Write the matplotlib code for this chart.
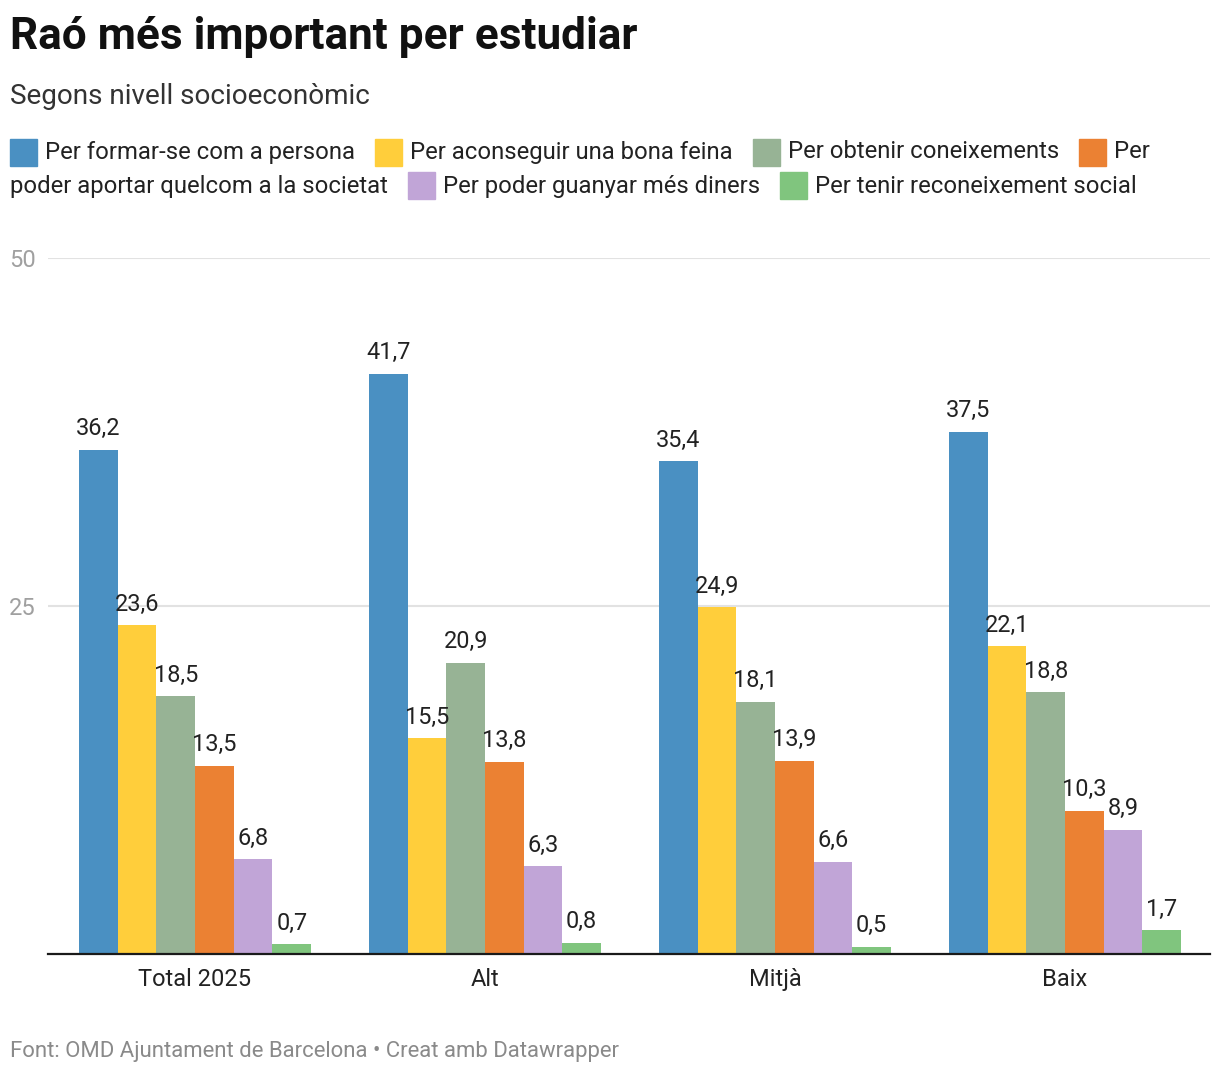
import numpy as np
import matplotlib.pyplot as plt
from matplotlib.patches import Rectangle

plt.rcParams['font.family'] = ['Roboto', 'DejaVu Sans']

# data
groups = ['Total 2025', 'Alt', 'Mitjà', 'Baix']
series = ['Per formar-se com a persona', 'Per aconseguir una bona feina',
          'Per obtenir coneixements', 'Per poder aportar quelcom a la societat',
          'Per poder guanyar més diners', 'Per tenir reconeixement social']
formar = [36.2, 41.7, 35.4, 37.5]
feina = [23.6, 15.5, 24.9, 22.1]
coneixements = [18.5, 20.9, 18.1, 18.8]
societat = [13.5, 13.8, 13.9, 10.3]
diners = [6.8, 6.3, 6.6, 8.9]
reconeixement = [0.7, 0.8, 0.5, 1.7]
values = [formar, feina, coneixements, societat, diners, reconeixement]
colors = ['#4a90c2', '#ffce3b', '#97b395', '#eb8133', '#c1a5d7', '#80c57e']

W, H = 1220, 1076
fig = plt.figure(figsize=(W / 100, H / 100), dpi=100)
ax = fig.add_axes([48 / W, (H - 954) / H, (1210 - 48) / W, (954 - 258) / H])

x = np.arange(len(groups))
width = 0.8 / len(series)
for i, (vals, c) in enumerate(zip(values, colors)):
    pos = x - 0.4 + width * (i + 0.5)
    ax.bar(pos, vals, width, color=c, zorder=3)
    for p, v in zip(pos, vals):
        ax.annotate(f'{v:.1f}'.replace('.', ','), (p, v), xytext=(0, 7),
                    textcoords='offset points', ha='center', va='bottom',
                    fontsize=16.9, color='#222222', zorder=4)

ax.set_xlim(-0.507, 3.5)
ax.set_ylim(0, 50)
ax.set_yticks([25, 50])
ax.set_xticks(x)
ax.set_xticklabels(groups, fontsize=17, color='#222222')
ax.tick_params(axis='x', length=0, pad=10)
ax.tick_params(axis='y', length=0, pad=9, labelsize=17, labelcolor='#a0a0a0')
ax.grid(axis='y', color='#e2e2e2', linewidth=1.5, zorder=0)
for s in ['top', 'right', 'left']:
    ax.spines[s].set_visible(False)
ax.spines['bottom'].set_linewidth(1.6)
ax.spines['bottom'].set_color('#1a1a1a')
ax.spines['bottom'].set_zorder(5)

# titles
fig.text(10 / W, 1 - 37 / H, 'Raó més important per estudiar', fontsize=31.8,
         fontweight='bold', color='#111111', va='center', ha='left')
fig.text(10 / W, 1 - 97 / H, 'Segons nivell socioeconòmic', fontsize=20.1,
         color='#333333', va='center', ha='left')
fig.text(10 / W, 1 - 1051 / H, 'Font: OMD Ajuntament de Barcelona • Creat amb Datawrapper',
         fontsize=15.9, color='#8a8a8a', va='center', ha='left')

# legend laid out as flowing text
renderer = fig.canvas.get_renderer()
leg_fs = 17.2


def text_w(s):
    t = fig.text(0, 0, s, fontsize=leg_fs)
    w = t.get_window_extent(renderer).width
    t.remove()
    return w


x0, xmax = 10, 1210
line_y = [152, 186]
sq, gap, item_gap = 27, 8, 20
cx, line = x0, 0
for label, c in zip(series, colors):
    words = label.split(' ')
    if cx + sq + gap + text_w(words[0]) > xmax:
        cx, line = x0, line + 1
    fig.add_artist(Rectangle((cx / W, 1 - (line_y[line] + sq / 2) / H), sq / W, sq / H,
                             transform=fig.transFigure, color=c))
    cx += sq + gap
    seg = ''
    for w in words:
        trial = (seg + ' ' + w).strip()
        if cx + text_w(trial) > xmax and seg:
            fig.text(cx / W, 1 - line_y[line] / H, seg, fontsize=leg_fs,
                     color='#222222', va='center', ha='left')
            cx, line = x0, line + 1
            seg = w
        else:
            seg = trial
    fig.text(cx / W, 1 - line_y[line] / H, seg, fontsize=leg_fs,
             color='#222222', va='center', ha='left')
    cx += text_w(seg) + item_gap

fig.savefig('out.png', dpi=100)
